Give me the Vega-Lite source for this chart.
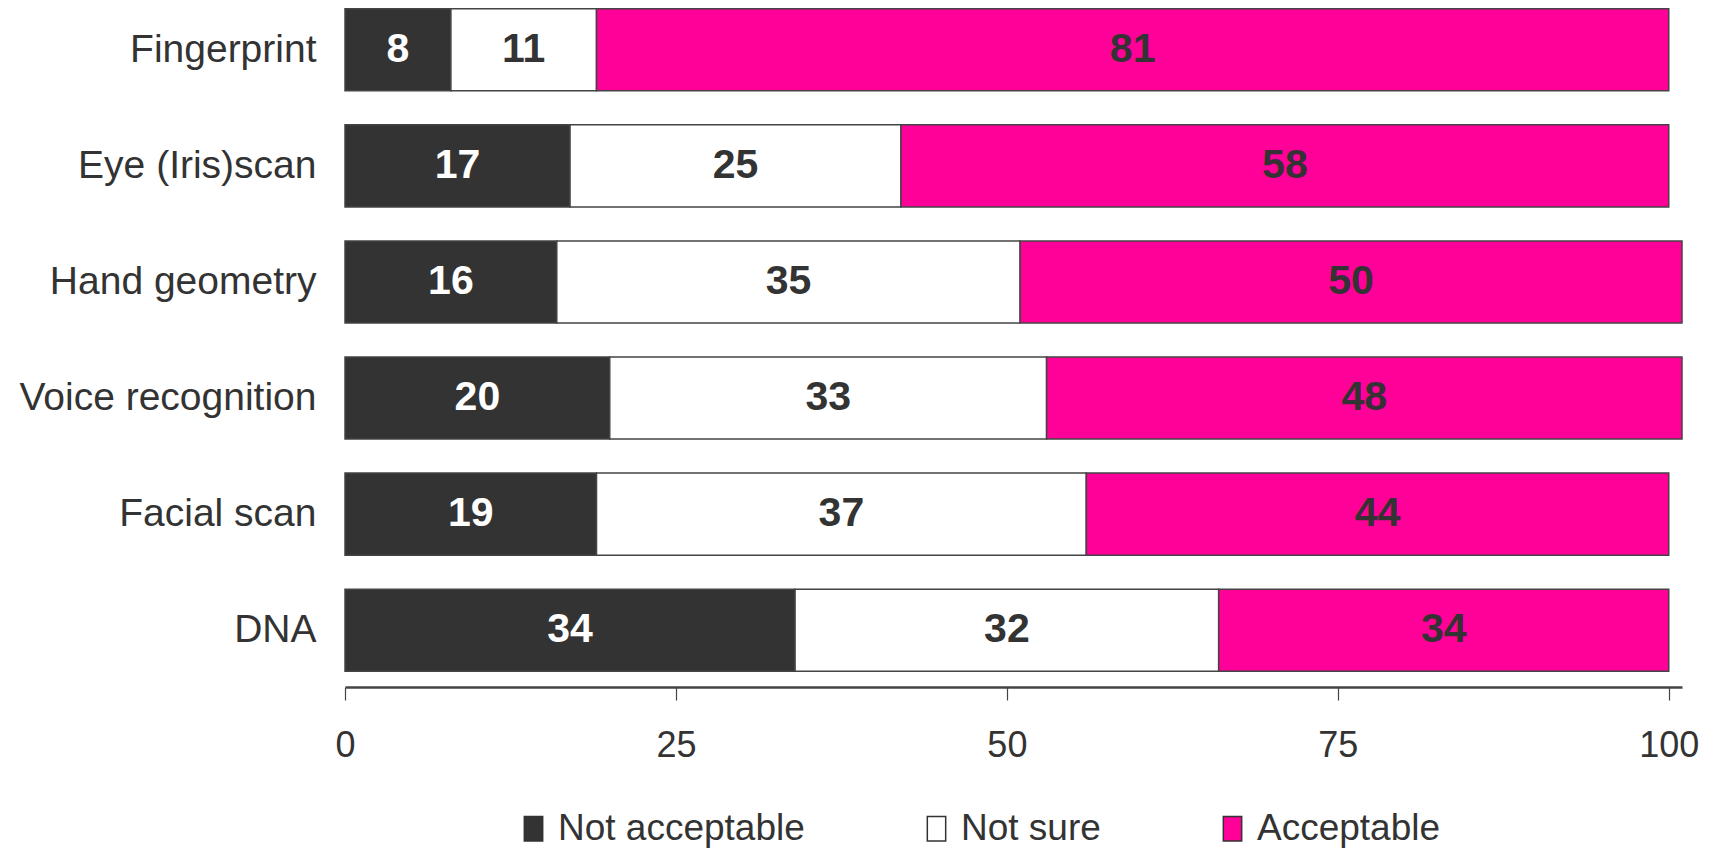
{
  "$schema": "https://vega.github.io/schema/vega-lite/v6.json",
  "autosize": "none",
  "width": 1337,
  "height": 680,
  "padding": {"left": 345, "top": 0, "right": 31, "bottom": 168},
  "background": "white",
  "config": {"view": {"stroke": null}, "font": "Liberation Sans"},
  "data": {"values": [
    {"item": "Fingerprint", "response": "Not acceptable", "o": 1, "value": 8},
    {"item": "Fingerprint", "response": "Not sure", "o": 2, "value": 11},
    {"item": "Fingerprint", "response": "Acceptable", "o": 3, "value": 81},
    {"item": "Eye (Iris)scan", "response": "Not acceptable", "o": 1, "value": 17},
    {"item": "Eye (Iris)scan", "response": "Not sure", "o": 2, "value": 25},
    {"item": "Eye (Iris)scan", "response": "Acceptable", "o": 3, "value": 58},
    {"item": "Hand geometry", "response": "Not acceptable", "o": 1, "value": 16},
    {"item": "Hand geometry", "response": "Not sure", "o": 2, "value": 35},
    {"item": "Hand geometry", "response": "Acceptable", "o": 3, "value": 50},
    {"item": "Voice recognition", "response": "Not acceptable", "o": 1, "value": 20},
    {"item": "Voice recognition", "response": "Not sure", "o": 2, "value": 33},
    {"item": "Voice recognition", "response": "Acceptable", "o": 3, "value": 48},
    {"item": "Facial scan", "response": "Not acceptable", "o": 1, "value": 19},
    {"item": "Facial scan", "response": "Not sure", "o": 2, "value": 37},
    {"item": "Facial scan", "response": "Acceptable", "o": 3, "value": 44},
    {"item": "DNA", "response": "Not acceptable", "o": 1, "value": 34},
    {"item": "DNA", "response": "Not sure", "o": 2, "value": 32},
    {"item": "DNA", "response": "Acceptable", "o": 3, "value": 34}
  ]},
  "encoding": {
    "y": {
      "field": "item", "type": "nominal",
      "sort": ["Fingerprint", "Eye (Iris)scan", "Hand geometry", "Voice recognition", "Facial scan", "DNA"],
      "scale": {"paddingInner": 0.293, "paddingOuter": 0.075},
      "axis": {"title": null, "domain": false, "ticks": false, "labelFontSize": 39, "labelColor": "#333333", "labelPadding": 29, "labelLimit": 400, "labelFont": "Liberation Sans"}
    },
    "x": {
      "field": "value", "type": "quantitative", "stack": "zero",
      "scale": {"domain": [0, 101], "nice": false},
      "axis": {"title": null, "values": [0, 25, 50, 75, 100], "grid": false, "offset": 7,
        "domainColor": "#444444", "domainWidth": 2.5, "tickColor": "#444444", "tickSize": 13, "tickWidth": 1.2,
        "labelFontSize": 36, "labelColor": "#333333", "labelPadding": 28, "labelFlush": false, "labelFont": "Liberation Sans"}
    },
    "order": {"field": "o", "type": "quantitative"}
  },
  "layer": [
    {
      "mark": {"type": "bar", "stroke": "#444444", "strokeWidth": 1.5},
      "encoding": {
        "color": {
          "field": "response", "type": "nominal",
          "scale": {"domain": ["Not acceptable", "Not sure", "Acceptable"], "range": ["#333333", "#ffffff", "#ff0099"]},
          "legend": {
            "title": null, "orient": "none", "direction": "horizontal", "legendX": 170, "legendY": 810,
            "symbolType": "M-0.75,-1H0.75V1H-0.75Z", "symbolSize": 600, "symbolStrokeColor": "#333333", "symbolStrokeWidth": 1.5,
            "labelFontSize": 37, "labelColor": "#333333", "labelOffset": 6, "columnPadding": 113, "labelLimit": 400,
            "labelFont": "Liberation Sans"
          }
        }
      }
    },
    {
      "mark": {"type": "text", "fontSize": 41, "fontWeight": "bold", "font": "Liberation Sans", "baseline": "middle", "align": "center"},
      "encoding": {
        "x": {"field": "value", "type": "quantitative", "stack": "zero", "bandPosition": 0.5},
        "text": {"field": "value", "type": "quantitative"},
        "color": {"condition": {"test": "datum.response === 'Not acceptable'", "value": "#ffffff"}, "value": "#333333"}
      }
    }
  ]
}
